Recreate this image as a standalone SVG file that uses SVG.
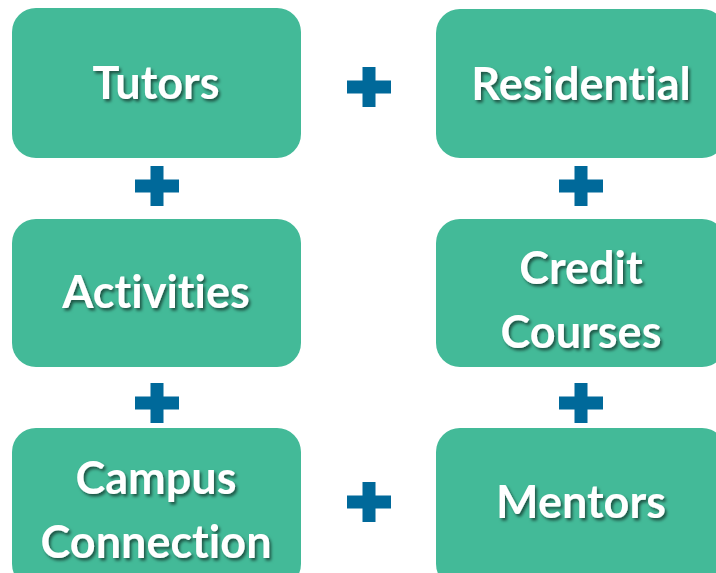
<svg xmlns="http://www.w3.org/2000/svg" width="716" height="573" viewBox="0 0 716 573">
<defs>
<style>
.box{fill:#43BA98;}
.lbl{fill:#ffffff;font-family:Lato,"Open Sans","Liberation Sans",sans-serif;font-weight:bold;font-size:45px;text-anchor:middle;font-variant-ligatures:none;font-feature-settings:"liga" 0;filter:url(#sh);}
.plus{fill:#00699A;}
</style>
<filter id="sh" x="-10%" y="-30%" width="130%" height="170%">
<feDropShadow dx="2" dy="2.5" stdDeviation="1.5" flood-color="#000" flood-opacity="0.55"/>
</filter>
<path id="p" d="M-6.5,-20 h13 v13.5 h15.5 v13 h-15.5 v13.5 h-13 v-13.5 h-15.5 v-13 h15.5 z"/>
</defs>
<rect width="716" height="573" fill="#ffffff"/>
<g id="tutors"><rect class="box" x="12" y="8" width="289" height="150" rx="24"/><text class="lbl" x="156" y="99">Tutors</text></g>
<g id="residential"><rect class="box" x="436" y="9" width="290" height="149" rx="24"/><text class="lbl" x="581" y="100">Residential</text></g>
<g id="activities"><rect class="box" x="12" y="219" width="289" height="148" rx="24"/><text class="lbl" x="156" y="308">Activities</text></g>
<g id="credit-courses"><rect class="box" x="436" y="219" width="290" height="148" rx="24"/><text class="lbl" x="581" y="284">Credit</text><text class="lbl" x="581" y="348">Courses</text></g>
<g id="campus-connection"><rect class="box" x="12" y="428" width="289" height="160" rx="24"/><text class="lbl" x="156" y="494">Campus</text><text class="lbl" x="156" y="558">Connection</text></g>
<g id="mentors"><rect class="box" x="436" y="428" width="290" height="160" rx="24"/><text class="lbl" x="581" y="518">Mentors</text></g>
<g id="connectors">
<use href="#p" class="plus" x="369" y="87"/>
<use href="#p" class="plus" x="157" y="186"/>
<use href="#p" class="plus" x="581" y="186"/>
<use href="#p" class="plus" x="157" y="403"/>
<use href="#p" class="plus" x="581" y="403"/>
<use href="#p" class="plus" x="369" y="502"/>
</g>
</svg>
